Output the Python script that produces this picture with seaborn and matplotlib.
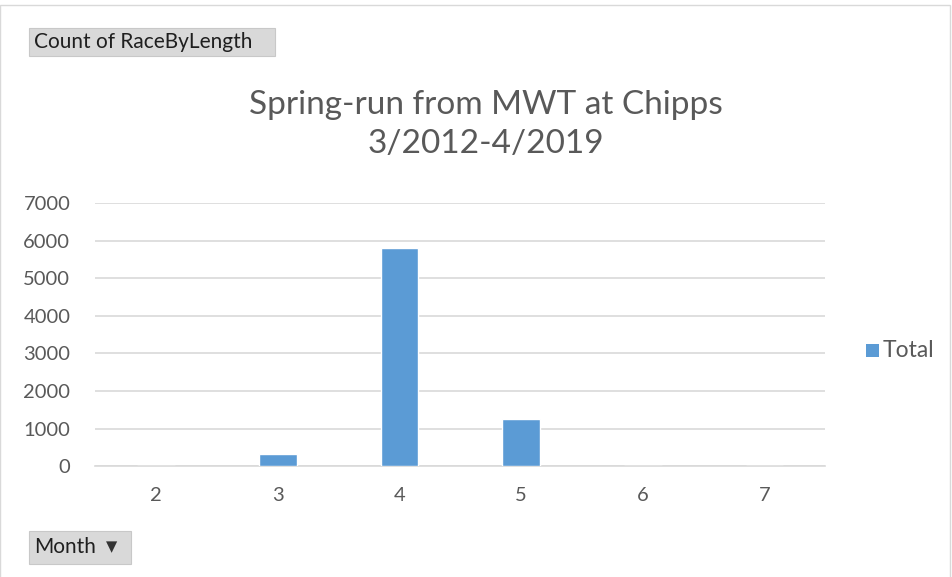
import matplotlib
matplotlib.use("Agg")
import matplotlib.pyplot as plt
import seaborn as sns
import pandas as pd
from matplotlib.patches import Rectangle

# values
months = ["2", "3", "4", "5", "6", "7"]
totals = [0, 333, 5810, 1250, 0, 0]
y_ticks = [0, 1000, 2000, 3000, 4000, 5000, 6000, 7000]

title = "Spring-run from MWT at Chipps\n3/2012-4/2019"
series_name = "Total"

sns.set_theme(style="white")
plt.rcParams["font.family"] = ["Lato", "DejaVu Sans"]

df = pd.DataFrame({"Month": months, "Count": totals})

fig = plt.figure(figsize=(9.53, 5.77), dpi=100)
ax = fig.add_axes([0.10, 0.192, 0.766, 0.456])

sns.barplot(data=df, x="Month", y="Count", color="#5b9bd5", width=0.31,
            saturation=1, ax=ax, zorder=3)

ax.set_ylim(0, 7000)
ax.set_yticks(y_ticks)
ax.set_xlim(-0.5, len(months) - 0.5)
ax.yaxis.grid(True, color="#d9d9d9", linewidth=1.2, zorder=0)
ax.set_axisbelow(True)
for s in ax.spines.values():
    s.set_visible(False)
ax.spines["bottom"].set_visible(True)
ax.spines["bottom"].set_color("#d9d9d9")
ax.spines["bottom"].set_linewidth(1.2)
ax.tick_params(axis="both", length=0, labelsize=14.5, colors="#595959")
ax.tick_params(axis="x", pad=15)
ax.tick_params(axis="y", pad=18)
ax.set_xlabel("")
ax.set_ylabel("")

fig.text(0.51, 0.784, title, ha="center", va="center", fontsize=24,
         color="#595959", linespacing=1.38)

# legend
fig.patches.append(Rectangle((0.909, 0.381), 0.013, 0.022, transform=fig.transFigure,
                             facecolor="#5b9bd5", edgecolor="none"))
fig.text(0.926, 0.393, series_name, ha="left", va="center", fontsize=16.5, color="#595959")

# pivot field buttons
for (x0, y0, w, h, label) in [(0.030, 0.903, 0.259, 0.049, "Count of RaceByLength"),
                               (0.030, 0.023, 0.107, 0.057, "Month")]:
    fig.patches.append(Rectangle((x0, y0), w, h, transform=fig.transFigure,
                                 facecolor="#d9d9d9", edgecolor="#c8c8c8", linewidth=0.8))
    fig.text(x0 + 0.006, y0 + h / 2, label, ha="left", va="center",
             fontsize=15, color="#1f1f1f")
fig.text(0.117, 0.052, "\u25bc", ha="center", va="center", fontsize=10.5,
         color="#333333", family="DejaVu Sans")

# outer chart border (top and right visible in source)
fig.patches.append(Rectangle((0.0, -0.01), 0.997, 1.001, transform=fig.transFigure,
                             facecolor="none", edgecolor="#d9d9d9", linewidth=1))

fig.savefig("out.png", dpi=100, facecolor="white")
